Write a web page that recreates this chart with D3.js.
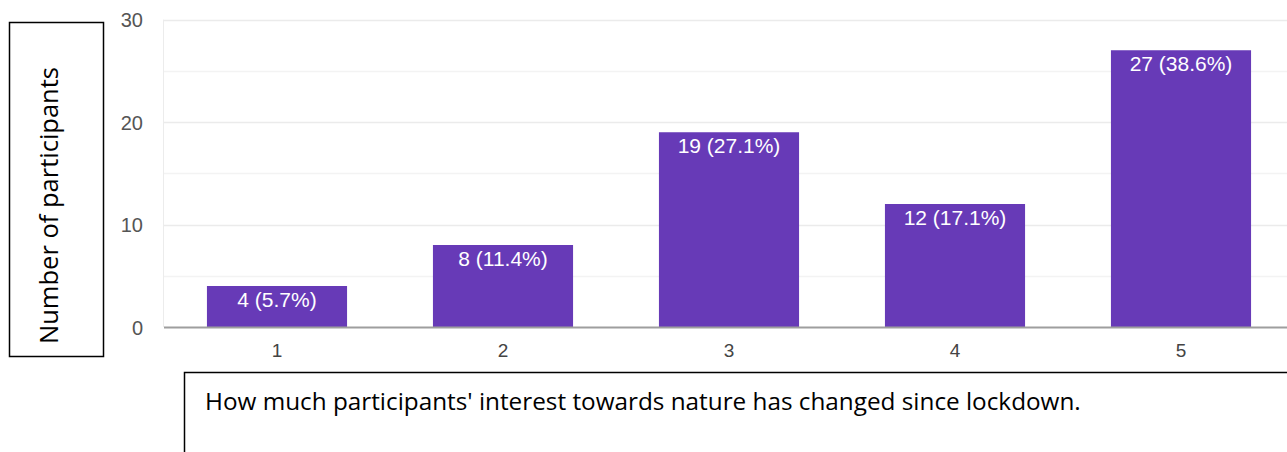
<!DOCTYPE html>
<html>
<head>
<meta charset="utf-8">
<script src="https://cdn.jsdelivr.net/npm/d3@7"></script>
<style>
  html, body { margin: 0; padding: 0; background: #fff; }
  svg { display: block; }
</style>
</head>
<body>
<svg id="chart" width="1287" height="452"></svg>
<script>
// Survey responses: change in interest towards nature (scale 1-5)
const categories = ["1", "2", "3", "4", "5"];
const counts = [4, 8, 19, 12, 27];
const percents = ["5.7%", "11.4%", "27.1%", "17.1%", "38.6%"];
const yTicks = [0, 10, 20, 30];
const yMinorTicks = [5, 15, 25];
const yTitle = "Number of participants";
const xTitle = "How much participants' interest towards nature has changed since lockdown.";

const svg = d3.select("#chart");
const W = 1287, H = 452;

const plot = { left: 164, right: 1294, top: 19.5, bottom: 327 };

const x = d3.scaleBand()
  .domain(categories)
  .range([plot.left, plot.right])
  .paddingInner(0.38)
  .paddingOuter(0.19);

const y = d3.scaleLinear()
  .domain([0, 30])
  .range([plot.bottom, plot.top]);

// Plot frame and gridlines
const grid = svg.append("g");
grid.append("line")
  .attr("x1", plot.left - 0.5).attr("x2", plot.left - 0.5)
  .attr("y1", plot.top).attr("y2", plot.bottom)
  .attr("stroke", "#ececec").attr("stroke-width", 1);

grid.selectAll("line.minor")
  .data(yMinorTicks)
  .join("line")
  .attr("class", "minor")
  .attr("x1", plot.left).attr("x2", W)
  .attr("y1", d => Math.round(y(d)) + 0.5).attr("y2", d => Math.round(y(d)) + 0.5)
  .attr("stroke", "#f3f3f3").attr("stroke-width", 1.5);

grid.selectAll("line.major")
  .data(yTicks.filter(d => d > 0))
  .join("line")
  .attr("class", "major")
  .attr("x1", plot.left).attr("x2", W)
  .attr("y1", d => Math.round(y(d)) + 0.5).attr("y2", d => Math.round(y(d)) + 0.5)
  .attr("stroke", "#ebebeb").attr("stroke-width", 1.5);

// Bars
svg.append("g")
  .selectAll("rect")
  .data(counts)
  .join("rect")
  .attr("x", (d, i) => x(categories[i]))
  .attr("y", d => y(d))
  .attr("width", x.bandwidth())
  .attr("height", d => y(0) - y(d))
  .attr("fill", "#673ab7");

// Value labels inside bar tops
svg.append("g")
  .selectAll("text")
  .data(counts)
  .join("text")
  .attr("x", (d, i) => x(categories[i]) + x.bandwidth() / 2)
  .attr("y", d => y(d) + 21)
  .attr("text-anchor", "middle")
  .attr("font-family", "Liberation Sans, Arial, sans-serif")
  .attr("font-size", 21)
  .attr("fill", "#ffffff")
  .text((d, i) => `${d} (${percents[i]})`);

// Baseline
svg.append("line")
  .attr("x1", plot.left).attr("x2", W)
  .attr("y1", plot.bottom + 0.5).attr("y2", plot.bottom + 0.5)
  .attr("stroke", "#9e9e9e").attr("stroke-width", 2);

// Y axis tick labels
const yAxis = d3.axisLeft(y).tickValues(yTicks).tickSize(0).tickPadding(0);
svg.append("g")
  .attr("transform", `translate(143,1)`)
  .call(yAxis)
  .call(g => g.select(".domain").remove())
  .call(g => g.selectAll("text")
    .attr("font-family", "Liberation Sans, Arial, sans-serif")
    .attr("font-size", 20)
    .attr("fill", "#555"));

// X axis tick labels
const xAxis = d3.axisBottom(x).tickSize(0).tickPadding(0);
svg.append("g")
  .attr("transform", `translate(0,${plot.bottom + 16})`)
  .call(xAxis)
  .call(g => g.select(".domain").remove())
  .call(g => g.selectAll("text")
    .attr("font-family", "Liberation Sans, Arial, sans-serif")
    .attr("font-size", 19)
    .attr("fill", "#444"));

// Y title box
svg.append("rect")
  .attr("x", 9.5).attr("y", 22.5)
  .attr("width", 94).attr("height", 334)
  .attr("fill", "none").attr("stroke", "#000").attr("stroke-width", 1.5);
svg.append("text")
  .attr("transform", `translate(58,${(68 + 343) / 2}) rotate(-90)`)
  .attr("text-anchor", "middle")
  .attr("font-family", "Open Sans, Noto Sans, sans-serif")
  .attr("font-size", 25.5)
  .attr("fill", "#000")
  .text(yTitle);

// X title box
svg.append("rect")
  .attr("x", 184.5).attr("y", 372.5)
  .attr("width", 1200).attr("height", 200)
  .attr("fill", "none").attr("stroke", "#000").attr("stroke-width", 1.5);
svg.append("text")
  .attr("x", 205).attr("y", 410)
  .attr("font-family", "Open Sans, Noto Sans, sans-serif")
  .attr("font-size", 24.3)
  .attr("fill", "#000")
  .text(xTitle);
</script>
</body>
</html>
